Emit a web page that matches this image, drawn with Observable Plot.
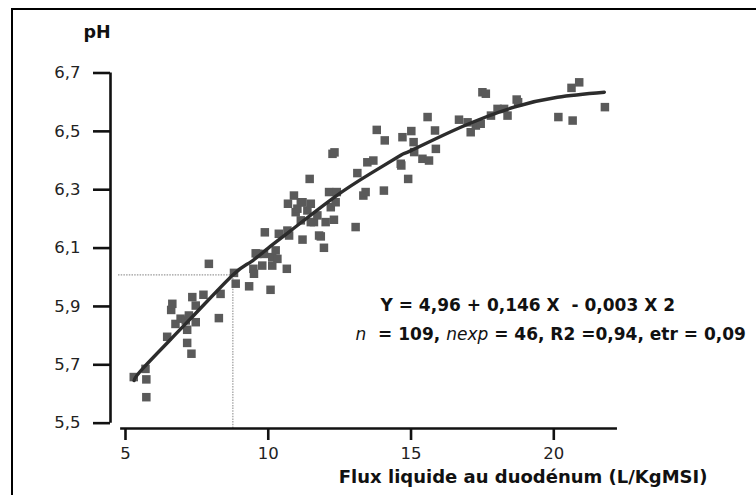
<!DOCTYPE html>
<html><head><meta charset="utf-8">
<script src="https://cdn.jsdelivr.net/npm/d3@7"></script>
<script src="https://cdn.jsdelivr.net/npm/@observablehq/plot@0.6"></script>
<style>
body{margin:0;background:#fff;}
#wrap{position:relative;width:756px;height:495px;overflow:hidden;background:#fff;}
#border{position:absolute;left:11px;top:8px;width:800px;height:600px;border-left:2.5px solid #000;border-top:2.5px solid #000;pointer-events:none;}
svg text{white-space:pre;}
</style></head><body>
<div id="wrap"><div id="chart"></div><div id="border"></div></div>
<script>
// Observed points: liquid flow at duodenum (L/KgMSI) vs pH
const fluxX = [5.29,5.73,5.73,5.70,6.46,6.60,6.64,6.75,6.93,7.11,7.16,7.16,7.22,7.31,7.34,7.46,7.46,7.73,7.92,8.27,
  8.33,8.80,8.86,9.33,9.48,9.50,9.56,9.62,9.79,9.85,9.88,10.08,10.14,10.14,10.26,10.32,10.37,10.65,10.67,10.73,
  10.69,10.90,10.96,11.02,11.14,11.14,11.20,11.20,11.37,11.45,11.49,11.49,11.60,11.72,11.78,11.84,11.95,12.01,12.13,12.19,
  12.25,12.32,12.30,12.36,12.40,13.06,13.12,13.33,13.41,13.47,13.68,13.80,14.05,14.08,14.64,14.66,14.70,14.90,15.01,15.09,
  15.11,15.40,15.58,15.63,15.84,15.87,16.68,16.98,17.09,17.27,17.44,17.50,17.62,17.80,18.03,18.26,18.38,18.70,18.75,20.16,
  20.62,20.66,20.89,21.79];
const phY = [5.658,5.650,5.589,5.686,5.796,5.888,5.909,5.840,5.858,5.852,5.820,5.775,5.869,5.738,5.932,5.903,5.846,5.940,6.046,5.860,
  5.943,6.015,5.978,5.969,6.029,6.012,6.082,6.080,6.040,6.080,6.154,5.957,6.040,6.069,6.092,6.063,6.149,6.029,6.160,6.143,
  6.252,6.280,6.223,6.235,6.257,6.195,6.129,6.257,6.229,6.337,6.252,6.189,6.189,6.212,6.143,6.140,6.101,6.189,6.292,6.240,
  6.423,6.428,6.197,6.257,6.292,6.172,6.357,6.280,6.292,6.394,6.400,6.505,6.297,6.469,6.389,6.383,6.480,6.337,6.501,6.463,
  6.429,6.406,6.549,6.400,6.503,6.440,6.540,6.531,6.497,6.520,6.526,6.634,6.629,6.554,6.577,6.577,6.554,6.609,6.600,6.549,
  6.649,6.537,6.668,6.583];

// Fitted curve
const curveX = [5.30,5.65,7.28,8.76,9.38,10.0,10.79,12.31,13.59,14.64,15.0,16.74,18.61,20.13,21.77];
const curveY = [5.646,5.692,5.858,6.008,6.052,6.100,6.160,6.274,6.356,6.418,6.434,6.514,6.583,6.617,6.634];

const yTicks = [5.5,5.7,5.9,6.1,6.3,6.5,6.7];
const yTickLabels = ["5,5","5,7","5,9","6,1","6,3","6,5","6,7"];
const xTicks = [5,10,15,20];
const xTickLabels = ["5","10","15","20"];

const xDomain = [4.475, 25.383];
const yDomain = [5.4817, 6.8799];
const xAxisExtent = [4.83, 22.23];
const yAxisExtent = [5.5, 6.7];

// reference (dotted) lines
const refX = [8.76];
const refY = [6.008];
const refStartX = [4.755];

const yTitle = "pH";
const xTitle = "Flux liquide au duodénum (L/KgMSI)";
const eqLines = ["Y = 4,96 + 0,146 X  - 0,003 X 2", "n  = 109, nexp = 46, R2 =0,94, etr = 0,09"];
const eqX = [13.93, 13.055];
const eqY = [5.8827, 5.7833];

const points = fluxX.map((x, i) => ({x, y: phY[i]}));
const curve = curveX.map((x, i) => ({x, y: curveY[i]}));
const eq = eqLines.map((t, i) => ({t, x: eqX[i], y: eqY[i]}));

const chart = Plot.plot({
  width: 756, height: 495,
  marginLeft: 110, marginRight: 49, marginTop: 20, marginBottom: 67,
  style: {fontFamily: "DejaVu Sans", background: "#fff", color: "#111"},
  x: {domain: xDomain, label: null},
  y: {domain: yDomain, label: null},
  marks: [
    Plot.ruleY(refY, {x1: refStartX[0], x2: refX[0], stroke: "#9a9a9a", strokeWidth: 1.2, strokeDasharray: "1.5,1.2"}),
    Plot.ruleX(refX, {y1: yDomain[0], y2: refY[0], stroke: "#9a9a9a", strokeWidth: 1.2, strokeDasharray: "1.5,1.2"}),
    Plot.ruleX([xDomain[0]], {y1: yAxisExtent[0], y2: yAxisExtent[1], stroke: "#111", strokeWidth: 2.6}),
    Plot.ruleY([yDomain[0]], {x1: xAxisExtent[0], x2: xAxisExtent[1], stroke: "#111", strokeWidth: 2.6}),
    Plot.axisY(yTicks, {tickSize: 17, tickPadding: 13, strokeWidth: 2.6, fontSize: 16.5, fill: "#222",
      tickFormat: d => yTickLabels[yTicks.indexOf(d)], label: null}),
    Plot.axisX(xTicks, {tickSize: 12, tickPadding: 7, strokeWidth: 2.6, fontSize: 16.5, fill: "#222",
      tickFormat: d => xTickLabels[xTicks.indexOf(d)], label: null}),
    Plot.dot(points, {x: "x", y: "y", symbol: "square", r: 4.8, fill: "#5a5a5a"}),
    Plot.line(curve, {x: "x", y: "y", curve: "natural", stroke: "#2c2c2c", strokeWidth: 3.4}),
    Plot.text([yTitle], {text: d => d, frameAnchor: "top-left", dx: -27, dy: 17, textAnchor: "start", lineAnchor: "bottom",
      fontWeight: "bold", fontSize: 17.5, fill: "#111"}),
    Plot.text([xTitle], {text: d => d, frameAnchor: "bottom-right", dy: 54, textAnchor: "end", lineAnchor: "bottom",
      fontWeight: "bold", fontSize: 18, fill: "#111"}),
    Plot.text(eq, {x: "x", y: "y", text: "t", textAnchor: "start", lineAnchor: "bottom",
      fontWeight: "bold", fontSize: 17, fill: "#111"})
  ]
});
document.getElementById("chart").appendChild(chart);

// mixed italic styling for the statistics line
d3.select(chart).selectAll("text").each(function() {
  if (this.textContent === eqLines[1]) {
    const el = d3.select(this);
    el.text(null);
    const parts = [["n", true], ["  = 109, ", false], ["nexp", true], [" = 46, R2 =0,94, etr = 0,09", false]];
    for (const [s, it] of parts) {
      const ts = el.append("tspan").text(s);
      if (it) ts.attr("font-style", "italic").attr("font-weight", "normal");
    }
  }
});
</script>
</body></html>
